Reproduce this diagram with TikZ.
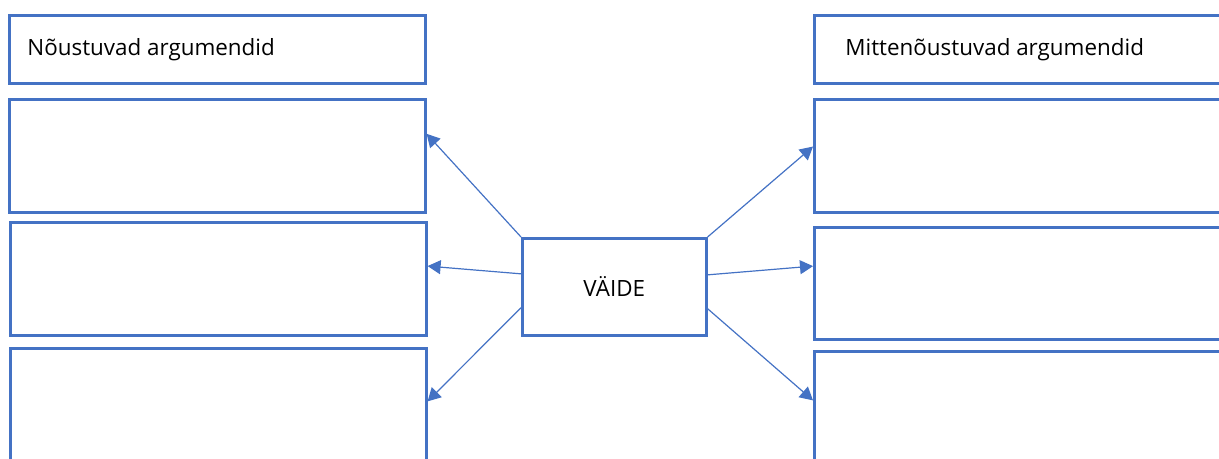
\documentclass[tikz,border=0pt]{standalone}
\usepackage{fontspec}
\setmainfont{Open Sans}
\usetikzlibrary{arrows.meta,calc}
\definecolor{boxblue}{HTML}{4472C4}

\begin{document}
\begin{tikzpicture}[x=0.5pt,y=-0.5pt,
    argbox/.style ={draw=boxblue, line width=1.3pt, rectangle, anchor=north west,
                    minimum width=208pt, minimum height=56.5pt, inner sep=0pt},
    headbox/.style ={argbox, minimum height=34pt},
    headtext/.style ={anchor=west, inner sep=0pt, font=\fontsize{11.2}{13}\selectfont},
    claimbox/.style ={draw=boxblue, line width=1.3pt, rectangle, anchor=north west,
                    minimum width=92pt, minimum height=48.5pt, inner sep=0pt,
                    font=\fontsize{11.2}{13}\selectfont},
    pointer/.style ={draw=boxblue, line width=0.6pt, -{Triangle[length=6.5pt,width=7pt]}}]
   \useasboundingbox (0,0) rectangle (1219,459);

   % left column
   \node[headbox] (proHead) at (8,14) {};
   \node[headtext] (proText) at ([xshift=9.5pt]proHead.west) {Nõustuvad argumendid};
   \node[argbox] (proA) at (8,98) {};
   \node[argbox] (proB) at (9,221) {};
   \node[argbox, minimum height=65pt] (proC) at (9,347) {};

   % right column
   \node[headbox, minimum width=210pt] (conHead) at (813,14) {};
   \node[headtext] (conText) at ([xshift=16pt]conHead.west) {Mittenõustuvad argumendid};
   \node[argbox, minimum width=210pt] (conA) at (813,98) {};
   \node[argbox, minimum width=210pt, minimum height=56pt] (conB) at (813,226) {};
   \node[argbox, minimum width=210pt, minimum height=65pt] (conC) at (813,350) {};

   % claim
   \node[claimbox] (claim) at (521,237) {VÄIDE};

   \draw[pointer] (claim.north west) to ($(proA.north east)!0.31!(proA.south east)$);
   \draw[pointer] ($(claim.north west)!0.37!(claim.south west)$) to ($(proB.north east)!0.39!(proB.south east)$);
   \draw[pointer] ($(claim.north west)!0.71!(claim.south west)$) to ($(proC.north east)!0.41!(proC.south east)$);
   \draw[pointer] (claim.north east) to ($(conA.north west)!0.42!(conA.south west)$);
   \draw[pointer] ($(claim.north east)!0.38!(claim.south east)$) to ($(conB.north west)!0.35!(conB.south west)$);
   \draw[pointer] ($(claim.north east)!0.72!(claim.south east)$) to ($(conC.north west)!0.38!(conC.south west)$);
 \end{tikzpicture}
\end{document}
